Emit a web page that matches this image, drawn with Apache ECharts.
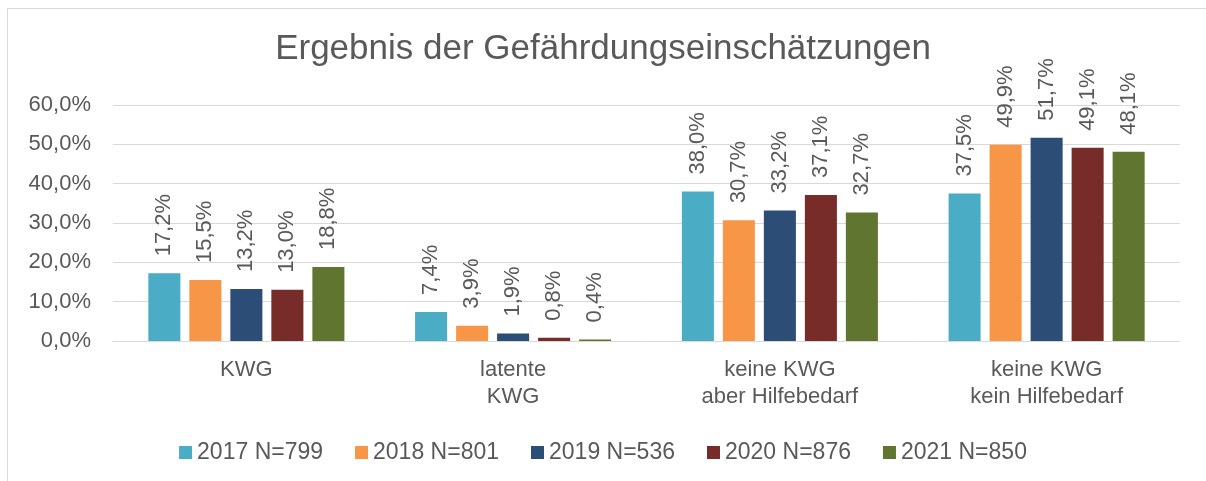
<!DOCTYPE html>
<html>
<head>
<meta charset="utf-8">
<script src="https://cdn.jsdelivr.net/npm/echarts@6/dist/echarts.min.js"></script>
<style>
  html, body { margin: 0; padding: 0; background: #fff; }
  #chart { width: 1206px; height: 481px; }
</style>
</head>
<body>
<div id="chart"></div>
<script>
// Kategorien und Werte (in %)
var categories = ['KWG', 'latente\nKWG', 'keine KWG\naber Hilfebedarf', 'keine KWG\nkein Hilfebedarf'];
var seriesNames = ['2017 N=799', '2018 N=801', '2019 N=536', '2020 N=876', '2021 N=850'];
var v2017 = [17.2, 7.4, 38.0, 37.5];
var v2018 = [15.5, 3.9, 30.7, 49.9];
var v2019 = [13.2, 1.9, 33.2, 51.7];
var v2020 = [13.0, 0.8, 37.1, 49.1];
var v2021 = [18.8, 0.4, 32.7, 48.1];
var colors = ['#4BACC6', '#F79646', '#2C4D75', '#772C2A', '#5F7530'];

var font = 'Liberation Sans, Arial, sans-serif';
var txt = '#595959';

function pct(v) {
    return v.toFixed(1).replace('.', ',') + '%';
}

var allData = [v2017, v2018, v2019, v2020, v2021];
var series = allData.map(function (d, i) {
    return {
        name: seriesNames[i],
        type: 'bar',
        data: d,
        barGap: '28%',
        barCategoryGap: '26.5%',
        itemStyle: { color: colors[i] },
        label: {
            show: true,
            position: 'top',
            rotate: 90,
            align: 'left',
            verticalAlign: 'middle',
            distance: 17,
            color: txt,
            fontFamily: font,
            fontSize: 22,
            formatter: function (p) { return pct(p.value); }
        }
    };
});

var chart = echarts.init(document.getElementById('chart'));
chart.setOption({
    animation: false,
    color: colors,
    title: {
        text: 'Ergebnis der Gefährdungseinschätzungen',
        left: 'center',
        top: 27,
        textStyle: { color: txt, fontFamily: font, fontSize: 35, fontWeight: 'normal' }
    },
    graphic: [{
        type: 'rect',
        shape: { x: 7.5, y: 8.5, width: 1400, height: 700 },
        style: { fill: 'none', stroke: '#d9d9d9', lineWidth: 1 },
        silent: true
    }],
    legend: {
        top: 436,
        left: 'center',
        itemWidth: 13,
        itemHeight: 13,
        itemGap: 32,
        icon: 'rect',
        textStyle: { color: txt, fontFamily: font, fontSize: 23 }
    },
    grid: { left: 113, right: 26, top: 105, bottom: 140 },
    xAxis: {
        type: 'category',
        data: categories,
        axisTick: { show: false },
        axisLine: { lineStyle: { color: '#d9d9d9' } },
        axisLabel: { color: txt, fontFamily: font, fontSize: 22, lineHeight: 27, margin: 15 }
    },
    yAxis: {
        type: 'value',
        min: 0,
        max: 60,
        interval: 10,
        axisLine: { show: false },
        axisTick: { show: false },
        splitLine: { lineStyle: { color: '#d9d9d9' } },
        axisLabel: {
            color: txt, fontFamily: font, fontSize: 22, margin: 22,
            formatter: function (v) { return pct(v); }
        }
    },
    series: series
});
</script>
</body>
</html>
